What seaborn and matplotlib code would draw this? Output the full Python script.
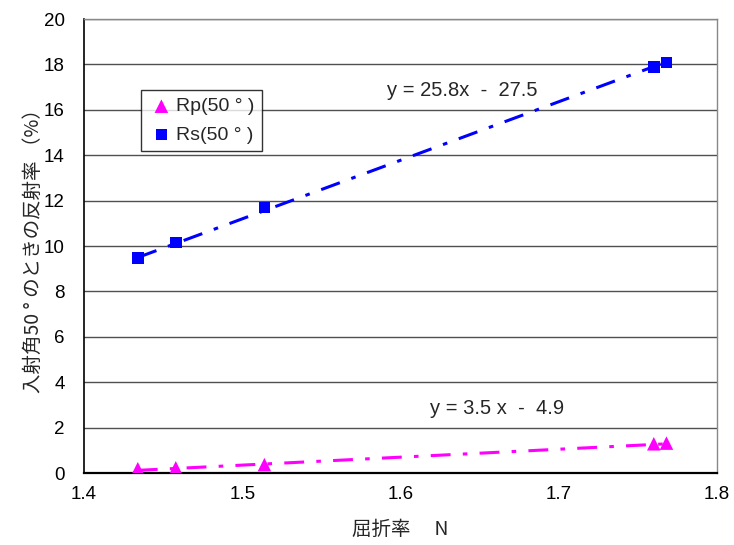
import matplotlib
matplotlib.use("Agg")
import matplotlib.pyplot as plt
import seaborn as sns
import numpy as np
import pandas as pd

# Refractive index of each sample and its reflectance at 50 degrees incidence (%)
n_index = [1.434, 1.458, 1.514, 1.760, 1.768]
rp_50 = [0.19, 0.23, 0.37, 1.29, 1.32]
rs_50 = [9.48, 10.15, 11.70, 17.90, 18.09]

# Linear trendlines (slope, intercept)
rs_fit = (25.8, -27.5)
rp_fit = (3.5, -4.9)

x_ticks = [1.4, 1.5, 1.6, 1.7, 1.8]
y_ticks = [0, 2, 4, 6, 8, 10, 12, 14, 16, 18, 20]

sns.set_theme(style="white")
plt.rcParams["font.family"] = ["Liberation Sans", "Noto Sans CJK JP", "DejaVu Sans"]
cjk = ["Noto Sans CJK JP", "DejaVu Sans"]

df = pd.DataFrame({"n": n_index, "Rp": rp_50, "Rs": rs_50})
x_line = np.array([min(n_index), max(n_index)])
fit_df = pd.DataFrame({
    "n": x_line,
    "Rs": rs_fit[0] * x_line + rs_fit[1],
    "Rp": rp_fit[0] * x_line + rp_fit[1],
})

fig = plt.figure(figsize=(7.34, 5.45), dpi=100)
ax = fig.add_axes([0.1144, 0.132, 0.8626, 0.833])

# trendlines (dash-dot)
dash = (6.5, 4, 1.5, 4)
sns.lineplot(data=fit_df, x="n", y="Rs", ax=ax, color="#0000ff", lw=2.2,
             legend=False).lines[-1].set_dashes(dash)
sns.lineplot(data=fit_df, x="n", y="Rp", ax=ax, color="#ff00ff", lw=2.2,
             legend=False).lines[-1].set_dashes(dash)

# measured points
sns.scatterplot(data=df, x="n", y="Rp", ax=ax, marker="^", s=95, color="#ff00ff",
                edgecolor="none", label="Rp(50 ° )", zorder=5)
sns.scatterplot(data=df, x="n", y="Rs", ax=ax, marker="s", s=70, color="#0000ff",
                edgecolor="none", label="Rs(50 ° )", zorder=5)

ax.set_xlim(1.4, 1.8)
ax.set_ylim(0, 20)
ax.set_xticks(x_ticks)
ax.set_yticks(y_ticks)
ax.set_xticklabels([f"{v:.1f}" for v in x_ticks])
ax.set_yticklabels([str(v) for v in y_ticks])
ax.tick_params(axis="x", direction="in", length=6, width=1, colors="black",
               labelsize=13.5, pad=9)
ax.tick_params(axis="y", direction="in", length=0, colors="black",
               labelsize=13.5, pad=14)

ax.yaxis.grid(True, color="#505050", lw=1.0)
ax.xaxis.grid(False)
ax.set_axisbelow(True)

for side in ["top", "right"]:
    ax.spines[side].set_color("#888888")
    ax.spines[side].set_linewidth(1.0)
ax.spines["left"].set_color("black")
ax.spines["left"].set_linewidth(1.2)
ax.spines["bottom"].set_color("black")
ax.spines["bottom"].set_linewidth(1.6)

ax.set_xlabel("屈折率　 N", fontsize=14, family=cjk, labelpad=12)
ax.set_ylabel("入射角50 ° のときの反射率 （%）", fontsize=14, family=cjk, labelpad=0)

ax.text(1.639, 16.87, "y = 25.8x  -  27.5", fontsize=14.5, ha="center", va="center")
ax.text(1.661, 2.86, "y = 3.5 x  -  4.9", fontsize=14.5, ha="center", va="center")

leg = ax.legend(loc="upper left", bbox_to_anchor=(0.090, 0.844), frameon=True,
                fancybox=False, edgecolor="black", fontsize=14, handletextpad=0.1,
                borderpad=0.4, labelspacing=0.55, handlelength=1.3, borderaxespad=0)
leg.get_frame().set_linewidth(1.0)

fig.savefig("out.png", dpi=100)
